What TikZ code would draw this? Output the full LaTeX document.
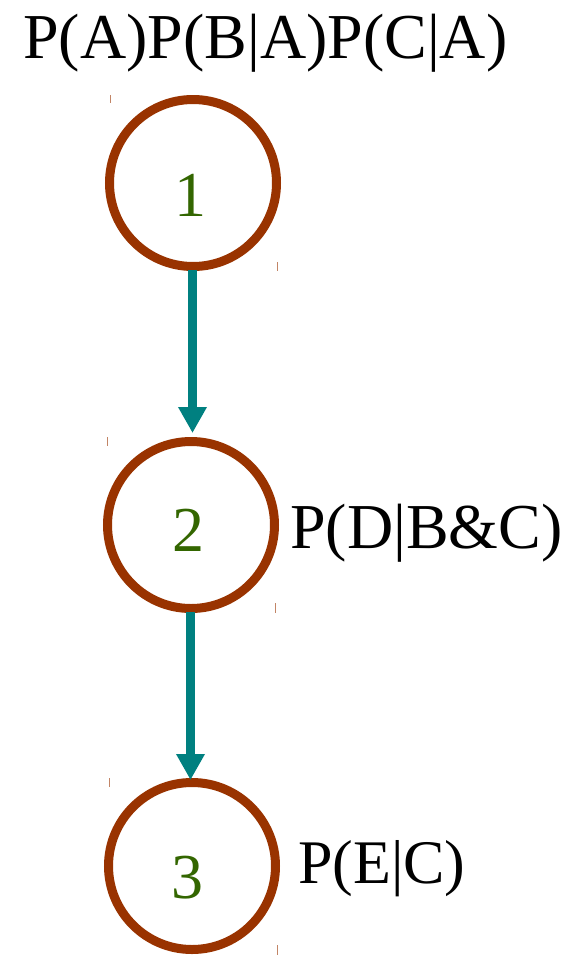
\documentclass[tikz,border=0pt]{standalone}
\usepackage{fontspec}
\setmainfont{Liberation Serif}
\usetikzlibrary{arrows.meta}
\definecolor{ringbrown}{HTML}{993300}
\definecolor{arrteal}{HTML}{008080}
\definecolor{numgreen}{HTML}{336600}
\tikzset{
  x=1pt, y=-1pt,
  ring/.style={circle, draw=ringbrown, line width=9pt, minimum size=167pt, inner sep=0pt},
  numtxt/.style={text=numgreen, font=\fontsize{64}{70}\selectfont, anchor=base, inner sep=0pt},
  probtxt/.style={text=black, font=\fontsize{64}{70}\selectfont, anchor=base west, inner sep=0pt},
  link/.style={draw=arrteal, line width=9pt, -{Triangle[width=27pt,length=26pt]}},
  tick/.style={draw=ringbrown!60, line width=1pt}
}
\begin{document}
\begin{tikzpicture}
\useasboundingbox (0,0) rectangle (579,956);
\node[ring] (c1) at (193,183) {};
\node[ring] (c2) at (191,525) {};
\node[ring] (c3) at (192,866) {};
\node[numtxt] (n1) at (190,216) {1};
\node[numtxt] (n2) at (188,551) {2};
\node[numtxt] (n3) at (187,898) {3};
\node[probtxt] (p1) at (23,58) {P(A)P(B|A)P(C|A)};
\node[probtxt] (p2) at (290,548) {P(D|B\&C)};
\node[probtxt, font=\fontsize{62}{68}\selectfont] (p3) at (298,883) {P(E|C)};
\coordinate (a1s) at (192.5,270);
\coordinate (a1e) at (192.5,433);
\coordinate (a2s) at (190.5,612);
\coordinate (a2e) at (190.5,780);
\draw[link] (a1s) -- (a1e);
\draw[link] (a2s) -- (a2e);
\coordinate (t1a) at (110,95); \coordinate (t1b) at (110,103);
\coordinate (t2a) at (277,262); \coordinate (t2b) at (277,271);
\coordinate (t3a) at (107,437); \coordinate (t3b) at (107,446);
\coordinate (t4a) at (275,603); \coordinate (t4b) at (275,613);
\coordinate (t5a) at (109,778); \coordinate (t5b) at (109,787);
\coordinate (t6a) at (277,945); \coordinate (t6b) at (277,955);
\draw[tick] (t1a) -- (t1b);
\draw[tick] (t2a) -- (t2b);
\draw[tick] (t3a) -- (t3b);
\draw[tick] (t4a) -- (t4b);
\draw[tick] (t5a) -- (t5b);
\draw[tick] (t6a) -- (t6b);
\end{tikzpicture}
\end{document}
